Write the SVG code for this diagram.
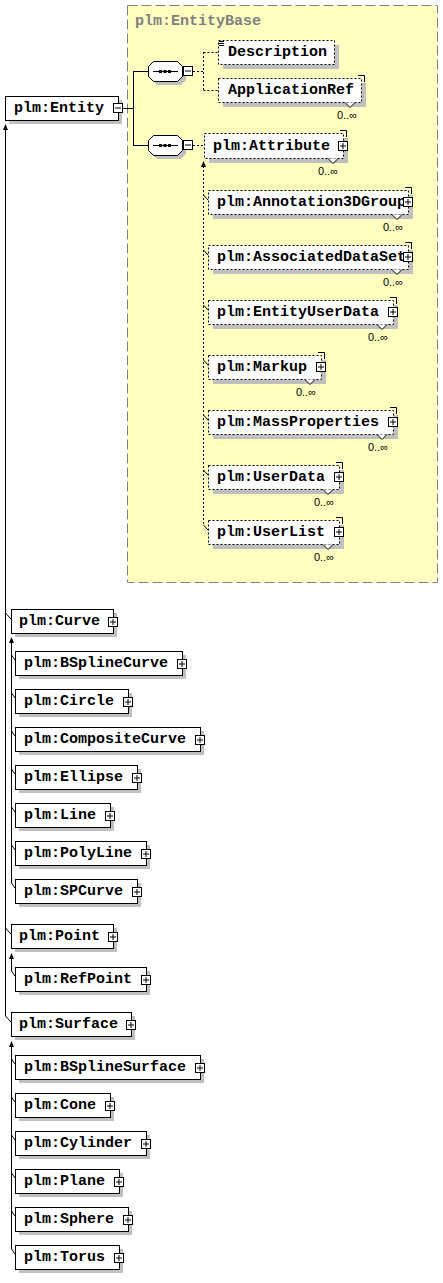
<svg xmlns="http://www.w3.org/2000/svg" xmlns:xlink="http://www.w3.org/1999/xlink" width="443" height="1283" viewBox="0 0 443 1283">
<style>
.bg{fill:#fff}
.sh{fill:#c0c0c0}
.box{fill:#fff;stroke:#000;stroke-width:1}
.dbox{fill:#fff;stroke:#000;stroke-width:1;stroke-dasharray:2,2}
.t{font-family:"Liberation Mono","Courier New",monospace;font-weight:bold;font-size:15px;fill:#000}
.title{font-family:"Liberation Mono","Courier New",monospace;font-weight:bold;font-size:15px;fill:#808080}
.m{font-family:"Liberation Sans",Arial,sans-serif;font-size:11px;fill:#000;text-anchor:end}
.ln{stroke:#000;stroke-width:1;fill:none}
.dl{stroke:#000;stroke-width:1;fill:none;stroke-dasharray:2,2}
.ah{fill:#000}
.notch{fill:#fff;stroke:#000;stroke-width:1}
</style>
<defs>
<g id="plus"><rect x="0.5" y="0.5" width="9" height="9" fill="#fff" stroke="#000"/><path d="M2,5H8M5,2V8" stroke="#000" stroke-width="1"/></g>
<g id="minus"><rect x="0.5" y="0.5" width="9" height="9" fill="#fff" stroke="#000"/><path d="M2,5H8" stroke="#000" stroke-width="1"/></g>
<g id="seq">
<polygon points="9,4 33,4 38,9 38,19 33,24 9,24 4,19 4,9" class="sh"/>
<polygon points="5.5,0.5 29.5,0.5 34.5,5.5 34.5,15.5 29.5,20.5 5.5,20.5 0.5,15.5 0.5,5.5" fill="#fff" stroke="#000"/>
<path d="M5,10.5H30" stroke="#000"/>
<rect x="11" y="9" width="3" height="3" fill="#000"/><rect x="15.5" y="9" width="3" height="3" fill="#000"/><rect x="20" y="9" width="3" height="3" fill="#000"/>
<use xlink:href="#minus" x="35" y="5"/>
</g>
</defs>
<rect class="bg" x="0" y="0" width="443" height="1283"/>

<g id="entitybase">
<rect x="127.5" y="5.5" width="310" height="577" fill="#ffffc0" stroke="#808080" stroke-dasharray="10,4"/>
<text class="title" x="135" y="25">plm:EntityBase</text>
</g>

<g id="connectors">
<path class="ln" d="M123,108.5H133.5M133.5,71V146M133.5,71.5H148M133.5,145.5H148"/>
<path class="dl" d="M193,71.5H203.5M203.5,52V91M203.5,52.5H218M203.5,90.5H218M193,145.5H204"/>
<path class="dl" d="M203.5,166V525"/>
<polygon class="ah" points="203.5,161 201,167 206,167"/>
<path class="ln" d="M203.5,195L208,200M203.5,250L208,255M203.5,305L208,310M203.5,360L208,365M203.5,415L208,420M203.5,470L208,475M203.5,525L208,530"/>
<path class="ln" d="M205,157L209.5,152"/>
<polygon class="ah" points="211,150 206.5,151.5 209.5,154.5"/>
<path class="ln" d="M5.5,128V1016M5.5,613L11,619M5.5,928L11,934M5.5,1016L11,1022"/>
<polygon class="ah" points="5.5,124 3,130 8,130"/>
<path class="ln" d="M11.5,641V883M11.5,655L15,660M11.5,693L15,698M11.5,731L15,736M11.5,769L15,774M11.5,807L15,812M11.5,845L15,850M11.5,883L15,888"/>
<polygon class="ah" points="11.5,637 9,643 14,643"/>
<path class="ln" d="M11.5,957V971M11.5,971L15,976"/>
<polygon class="ah" points="11.5,953 9,959 14,959"/>
<path class="ln" d="M11.5,1045V1249M11.5,1059L15,1064M11.5,1097L15,1102M11.5,1135L15,1140M11.5,1173L15,1178M11.5,1211L15,1216M11.5,1249L15,1254"/>
<polygon class="ah" points="11.5,1041 9,1047 14,1047"/>
</g>

<g id="seq1"><use xlink:href="#seq" x="148" y="61"/></g>
<g id="seq2"><use xlink:href="#seq" x="148" y="135"/></g>

<g id="n-entity"><rect class="sh" x="9" y="100" width="113" height="24"/><rect class="box" x="5.5" y="96.5" width="113" height="24"/><text class="t" x="14" y="112">plm:Entity</text><use xlink:href="#minus" x="113" y="103"/></g>

<g id="n-description"><rect class="sh" x="223" y="45" width="116" height="24"/><rect class="dbox" x="218.5" y="40.5" width="116" height="24"/><path d="M219,41.5H224M219,43.5H224M219,45.5H224" stroke="#000"/><text class="t" x="228" y="56">Description</text></g>
<g id="n-applicationref"><rect class="sh" x="223" y="83" width="143" height="24"/><rect class="dbox" x="218.5" y="78.5" width="143" height="24"/><path class="ln" d="M358,75.5H364.5V82"/><polyline class="notch" points="345,102.5 350,107.5 355,102.5"/><text class="t" x="228" y="94">ApplicationRef</text><text class="m" x="357" y="119">0..∞</text></g>
<g id="n-attribute"><rect class="sh" x="209" y="138" width="139" height="25"/><rect class="dbox" x="204.5" y="133.5" width="139" height="25"/><path class="ln" d="M340,130.5H346.5V137"/><polyline class="notch" points="328,158.5 333,163.5 338,158.5"/><text class="t" x="213" y="150">plm:Attribute</text><use xlink:href="#plus" x="338" y="141"/><text class="m" x="338" y="175">0..∞</text></g>

<g id="n-annotation3dgroup"><rect class="sh" x="213" y="195" width="200" height="24"/><rect class="dbox" x="208.5" y="190.5" width="200" height="24"/><path class="ln" d="M405,187.5H411.5V194"/><polyline class="notch" points="392,214.5 397,219.5 402,214.5"/><text class="t" x="217" y="206">plm:Annotation3DGroup</text><use xlink:href="#plus" x="403" y="197"/><text class="m" x="403" y="231">0..∞</text></g>
<g id="n-associateddataset"><rect class="sh" x="213" y="250" width="200" height="24"/><rect class="dbox" x="208.5" y="245.5" width="200" height="24"/><path class="ln" d="M405,242.5H411.5V249"/><polyline class="notch" points="392,269.5 397,274.5 402,269.5"/><text class="t" x="217" y="261">plm:AssociatedDataSet</text><use xlink:href="#plus" x="403" y="252"/><text class="m" x="403" y="286">0..∞</text></g>
<g id="n-entityuserdata"><rect class="sh" x="213" y="305" width="185" height="24"/><rect class="dbox" x="208.5" y="300.5" width="185" height="24"/><path class="ln" d="M390,297.5H396.5V304"/><polyline class="notch" points="377,324.5 382,329.5 387,324.5"/><text class="t" x="217" y="316">plm:EntityUserData</text><use xlink:href="#plus" x="388" y="307"/><text class="m" x="388" y="341">0..∞</text></g>
<g id="n-markup"><rect class="sh" x="213" y="360" width="113" height="24"/><rect class="dbox" x="208.5" y="355.5" width="113" height="24"/><path class="ln" d="M318,352.5H324.5V359"/><polyline class="notch" points="305,379.5 310,384.5 315,379.5"/><text class="t" x="217" y="371">plm:Markup</text><use xlink:href="#plus" x="316" y="362"/><text class="m" x="316" y="396">0..∞</text></g>
<g id="n-massproperties"><rect class="sh" x="213" y="415" width="185" height="24"/><rect class="dbox" x="208.5" y="410.5" width="185" height="24"/><path class="ln" d="M390,407.5H396.5V414"/><polyline class="notch" points="377,434.5 382,439.5 387,434.5"/><text class="t" x="217" y="426">plm:MassProperties</text><use xlink:href="#plus" x="388" y="417"/><text class="m" x="388" y="451">0..∞</text></g>
<g id="n-userdata"><rect class="sh" x="213" y="470" width="131" height="24"/><rect class="dbox" x="208.5" y="465.5" width="131" height="24"/><path class="ln" d="M336,462.5H342.5V469"/><polyline class="notch" points="323,489.5 328,494.5 333,489.5"/><text class="t" x="217" y="481">plm:UserData</text><use xlink:href="#plus" x="334" y="472"/><text class="m" x="334" y="506">0..∞</text></g>
<g id="n-userlist"><rect class="sh" x="213" y="525" width="131" height="24"/><rect class="dbox" x="208.5" y="520.5" width="131" height="24"/><path class="ln" d="M336,517.5H342.5V524"/><polyline class="notch" points="323,544.5 328,549.5 333,544.5"/><text class="t" x="217" y="536">plm:UserList</text><use xlink:href="#plus" x="334" y="527"/><text class="m" x="334" y="561">0..∞</text></g>

<g id="n-curve"><rect class="sh" x="15" y="613" width="102" height="24"/><rect class="box" x="11.5" y="609.5" width="102" height="24"/><text class="t" x="19" y="625">plm:Curve</text><use xlink:href="#plus" x="108" y="617"/></g>
<g id="n-bsplinecurve"><rect class="sh" x="19" y="655" width="167" height="24"/><rect class="box" x="15.5" y="651.5" width="167" height="24"/><text class="t" x="24" y="667">plm:BSplineCurve</text><use xlink:href="#plus" x="177" y="659"/></g>
<g id="n-circle"><rect class="sh" x="19" y="693" width="113" height="24"/><rect class="box" x="15.5" y="689.5" width="113" height="24"/><text class="t" x="24" y="705">plm:Circle</text><use xlink:href="#plus" x="123" y="697"/></g>
<g id="n-compositecurve"><rect class="sh" x="19" y="731" width="185" height="24"/><rect class="box" x="15.5" y="727.5" width="185" height="24"/><text class="t" x="24" y="743">plm:CompositeCurve</text><use xlink:href="#plus" x="195" y="735"/></g>
<g id="n-ellipse"><rect class="sh" x="19" y="769" width="122" height="24"/><rect class="box" x="15.5" y="765.5" width="122" height="24"/><text class="t" x="24" y="781">plm:Ellipse</text><use xlink:href="#plus" x="132" y="773"/></g>
<g id="n-line"><rect class="sh" x="19" y="807" width="95" height="24"/><rect class="box" x="15.5" y="803.5" width="95" height="24"/><text class="t" x="24" y="819">plm:Line</text><use xlink:href="#plus" x="105" y="811"/></g>
<g id="n-polyline"><rect class="sh" x="19" y="845" width="131" height="24"/><rect class="box" x="15.5" y="841.5" width="131" height="24"/><text class="t" x="24" y="857">plm:PolyLine</text><use xlink:href="#plus" x="141" y="849"/></g>
<g id="n-spcurve"><rect class="sh" x="19" y="883" width="122" height="24"/><rect class="box" x="15.5" y="879.5" width="122" height="24"/><text class="t" x="24" y="895">plm:SPCurve</text><use xlink:href="#plus" x="132" y="887"/></g>

<g id="n-point"><rect class="sh" x="15" y="928" width="102" height="24"/><rect class="box" x="11.5" y="924.5" width="102" height="24"/><text class="t" x="19" y="940">plm:Point</text><use xlink:href="#plus" x="108" y="932"/></g>
<g id="n-refpoint"><rect class="sh" x="19" y="971" width="131" height="24"/><rect class="box" x="15.5" y="967.5" width="131" height="24"/><text class="t" x="24" y="983">plm:RefPoint</text><use xlink:href="#plus" x="141" y="975"/></g>

<g id="n-surface"><rect class="sh" x="15" y="1016" width="120" height="24"/><rect class="box" x="11.5" y="1012.5" width="120" height="24"/><text class="t" x="19" y="1028">plm:Surface</text><use xlink:href="#plus" x="126" y="1020"/></g>
<g id="n-bsplinesurface"><rect class="sh" x="19" y="1059" width="185" height="24"/><rect class="box" x="15.5" y="1055.5" width="185" height="24"/><text class="t" x="24" y="1071">plm:BSplineSurface</text><use xlink:href="#plus" x="195" y="1063"/></g>
<g id="n-cone"><rect class="sh" x="19" y="1097" width="95" height="24"/><rect class="box" x="15.5" y="1093.5" width="95" height="24"/><text class="t" x="24" y="1109">plm:Cone</text><use xlink:href="#plus" x="105" y="1101"/></g>
<g id="n-cylinder"><rect class="sh" x="19" y="1135" width="131" height="24"/><rect class="box" x="15.5" y="1131.5" width="131" height="24"/><text class="t" x="24" y="1147">plm:Cylinder</text><use xlink:href="#plus" x="141" y="1139"/></g>
<g id="n-plane"><rect class="sh" x="19" y="1173" width="104" height="24"/><rect class="box" x="15.5" y="1169.5" width="104" height="24"/><text class="t" x="24" y="1185">plm:Plane</text><use xlink:href="#plus" x="114" y="1177"/></g>
<g id="n-sphere"><rect class="sh" x="19" y="1211" width="113" height="24"/><rect class="box" x="15.5" y="1207.5" width="113" height="24"/><text class="t" x="24" y="1223">plm:Sphere</text><use xlink:href="#plus" x="123" y="1215"/></g>
<g id="n-torus"><rect class="sh" x="19" y="1249" width="104" height="24"/><rect class="box" x="15.5" y="1245.5" width="104" height="24"/><text class="t" x="24" y="1261">plm:Torus</text><use xlink:href="#plus" x="114" y="1253"/></g>
</svg>
